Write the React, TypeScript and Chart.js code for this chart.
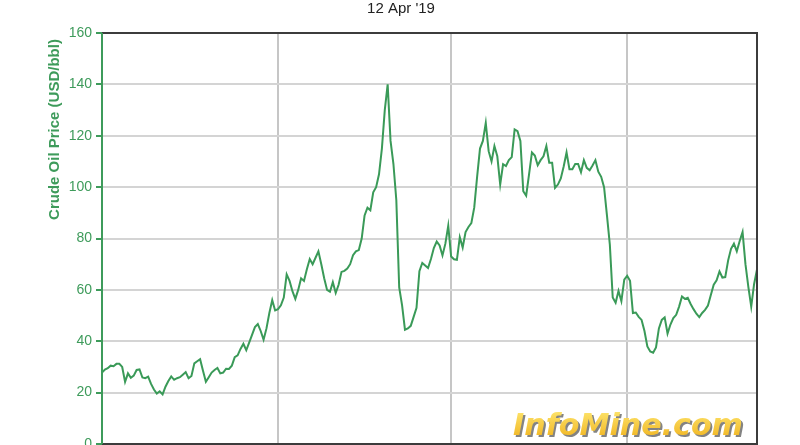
import React, { useEffect, useRef } from "react";
import { Chart, registerables } from "chart.js";

Chart.register(...registerables);

const TITLE = "12 Apr '19";
const Y_TITLE = "Crude Oil Price (USD/bbl)";
const WATERMARK = "InfoMine.com";

// Monthly crude oil price, starting April 2000
const START_YEAR = 2000;
const START_MONTH = 4;
const price2000 = [27.8, 29, 29.5, 30.5, 30.3, 31.2, 31.2, 30.0, 24.2];
const price2001 = [27.5, 25.8, 26.6, 28.8, 29.0, 25.9, 25.6, 26.2, 23.4, 21.2, 19.6, 20.5];
const price2002 = [19.3, 22.3, 24.5, 26.3, 25.0, 25.6, 26.0, 27.0, 28.0, 25.6, 26.5, 31.4];
const price2003 = [32.2, 33.0, 28.5, 24.2, 26.0, 27.8, 28.8, 29.6, 27.5, 27.8, 29.3, 29.2];
const price2004 = [30.5, 33.8, 34.5, 37, 39, 36.5, 39.5, 42.5, 45.5, 46.7, 44, 40.6];
const price2005 = [45, 51, 56, 52, 52.5, 54, 57, 66, 63.5, 59.5, 56.5, 60];
const price2006 = [64.5, 63.5, 68, 72, 70, 72.5, 75, 70, 64.5, 60, 59.3, 63];
const price2007 = [58.8, 62, 67, 67.4, 68.3, 70, 73.5, 75, 75.5, 80, 89, 92];
const price2008 = [91, 98, 100, 105, 115, 130, 140, 118, 109, 95, 61, 54];
const price2009 = [44.5, 45, 46, 49.5, 53, 67.3, 70.5, 69.5, 68.5, 72, 76.3, 78.8];
const price2010 = [77.3, 73.4, 78, 85, 73, 71.9, 71.7, 80.5, 76.5, 82.5, 84.5, 86];
const price2011 = [92, 104, 115, 118, 125, 114, 110, 116, 112, 101, 108.9, 108.2];
const price2012 = [110.5, 111.7, 122.5, 121.8, 118, 98.4, 96.7, 105, 113.5, 112.3, 108.5, 110.5];
const price2013 = [112, 116, 109.5, 109.5, 99.7, 101, 103.4, 108, 113.5, 107, 107, 109];
const price2014 = [109, 105.8, 110.5, 107.5, 106.6, 108.4, 110.5, 106, 104, 100, 89, 77.6];
const price2015 = [57, 55, 59.6, 55.6, 64, 65.5, 63.5, 51, 51.2, 49.5, 48.3, 44];
const price2016 = [38, 36, 35.5, 37.6, 45, 48.3, 49.3, 43, 46.5, 49, 50.3, 53.5];
const price2017 = [57.4, 56.5, 56.9, 54.5, 52.5, 50.7, 49.4, 51, 52.2, 53.9, 58, 62];
const price2018 = [63.7, 67.2, 64.8, 65, 71.5, 76, 78, 75, 79, 82.5, 70, 61.2];
const price2019 = [53.5, 62.3, 68];

const prices = [
  ...price2000, ...price2001, ...price2002, ...price2003, ...price2004,
  ...price2005, ...price2006, ...price2007, ...price2008, ...price2009,
  ...price2010, ...price2011, ...price2012, ...price2013, ...price2014,
  ...price2015, ...price2016, ...price2017, ...price2018, ...price2019,
];

const months: string[] = prices.map((_, i) => {
  const t = START_MONTH - 1 + i;
  const y = START_YEAR + Math.floor(t / 12);
  const m = (t % 12) + 1;
  return `${y}-${m < 10 ? "0" + m : m}`;
});

const yTicks = [0, 20, 40, 60, 80, 100, 120, 140, 160];
const gridMonths = ["2005-05", "2010-05", "2015-06"];

const GREEN = "#3e9b5b";
const LINE_GREEN = "#3a9a58";

export default function App() {
  const ref = useRef<HTMLCanvasElement | null>(null);

  useEffect(() => {
    if (!ref.current) return;
    const gridIdx = gridMonths.map((g) => months.indexOf(g));

    const decor = {
      id: "decor",
      beforeDatasetsDraw(chart: any) {
        const ctx = chart.ctx;
        const a = chart.chartArea;
        ctx.save();
        ctx.font = "bold oblique 31px 'DejaVu Sans'";
        const w = ctx.measureText(WATERMARK).width;
        const targetW = 230;
        ctx.translate(a.right - 244, a.bottom - 9);
        ctx.scale(targetW / w, 1);
        ctx.textBaseline = "alphabetic";
        ctx.textAlign = "left";
        ctx.fillStyle = "rgba(90,90,90,0.75)";
        ctx.fillText(WATERMARK, 2, 2);
        const grad = ctx.createLinearGradient(0, -24, 0, 0);
        grad.addColorStop(0, "#fde36a");
        grad.addColorStop(1, "#f2bb2c");
        ctx.fillStyle = grad;
        ctx.fillText(WATERMARK, 0, 0);
        ctx.restore();
      },
      afterDraw(chart: any) {
        const ctx = chart.ctx;
        const a = chart.chartArea;
        ctx.save();
        // frame
        ctx.strokeStyle = "#3c3c3c";
        ctx.lineWidth = 2;
        ctx.beginPath();
        ctx.moveTo(a.left, a.top);
        ctx.lineTo(a.right, a.top);
        ctx.lineTo(a.right, a.bottom);
        ctx.lineTo(a.left, a.bottom);
        ctx.stroke();
        // left axis line (green) on top
        ctx.strokeStyle = GREEN;
        ctx.beginPath();
        ctx.moveTo(a.left, a.top);
        ctx.lineTo(a.left, a.bottom);
        ctx.stroke();
        // title
        ctx.fillStyle = "#222";
        ctx.font = "15px 'Liberation Sans', Arial, sans-serif";
        ctx.textAlign = "center";
        ctx.textBaseline = "middle";
        ctx.fillText(TITLE, 401, 8.5);
        // y axis title
        ctx.translate(55, 129.5);
        ctx.rotate(-Math.PI / 2);
        ctx.fillStyle = GREEN;
        ctx.font = "bold 15px 'Liberation Sans', Arial, sans-serif";
        ctx.textAlign = "center";
        ctx.textBaseline = "middle";
        ctx.fillText(Y_TITLE, 0, 0);
        ctx.restore();
      },
    };

    const chart = new Chart(ref.current, {
      type: "line",
      data: {
        labels: months,
        datasets: [
          {
            data: prices,
            borderColor: LINE_GREEN,
            borderWidth: 2,
            pointRadius: 0,
            tension: 0,
            fill: false,
          },
        ],
      },
      options: {
        animation: false,
        responsive: false,
        devicePixelRatio: 1,
        layout: { padding: { left: 0, right: 43, top: 33, bottom: 1 } },
        plugins: {
          legend: { display: false },
          tooltip: { enabled: false },
          title: { display: false },
        },
        scales: {
          x: {
            type: "category",
            ticks: { display: false },
            grid: { color: "#c6c6c6", lineWidth: 2, drawTicks: false },
            border: { display: false },
            afterBuildTicks: (s: any) => {
              s.ticks = s.ticks.filter((t: any) => gridIdx.includes(t.value));
            },
            afterFit: (s: any) => {
              s.height = 0;
            },
          },
          y: {
            min: 0,
            max: 160,
            ticks: {
              color: GREEN,
              padding: 4,
              font: { family: "'Liberation Sans', Arial, sans-serif", size: 14 },
            },
            afterBuildTicks: (s: any) => {
              s.ticks = yTicks.map((v) => ({ value: v }));
            },
            grid: {
              color: "#d4d4d4",
              lineWidth: 2,
              tickColor: GREEN,
              tickLength: 6,
              tickWidth: 2,
            },
            border: { color: GREEN, width: 2 },
            afterFit: (s: any) => {
              s.width = 102;
              s.paddingTop = 0;
              s.paddingBottom = 0;
            },
          },
        },
      },
      plugins: [decor],
    } as any);

    return () => chart.destroy();
  }, []);

  return (
    <div style={{ position: "fixed", left: 0, top: 0, width: 800, height: 445, background: "#fff" }}>
      <canvas ref={ref} width={800} height={445} style={{ display: "block" }} />
    </div>
  );
}
